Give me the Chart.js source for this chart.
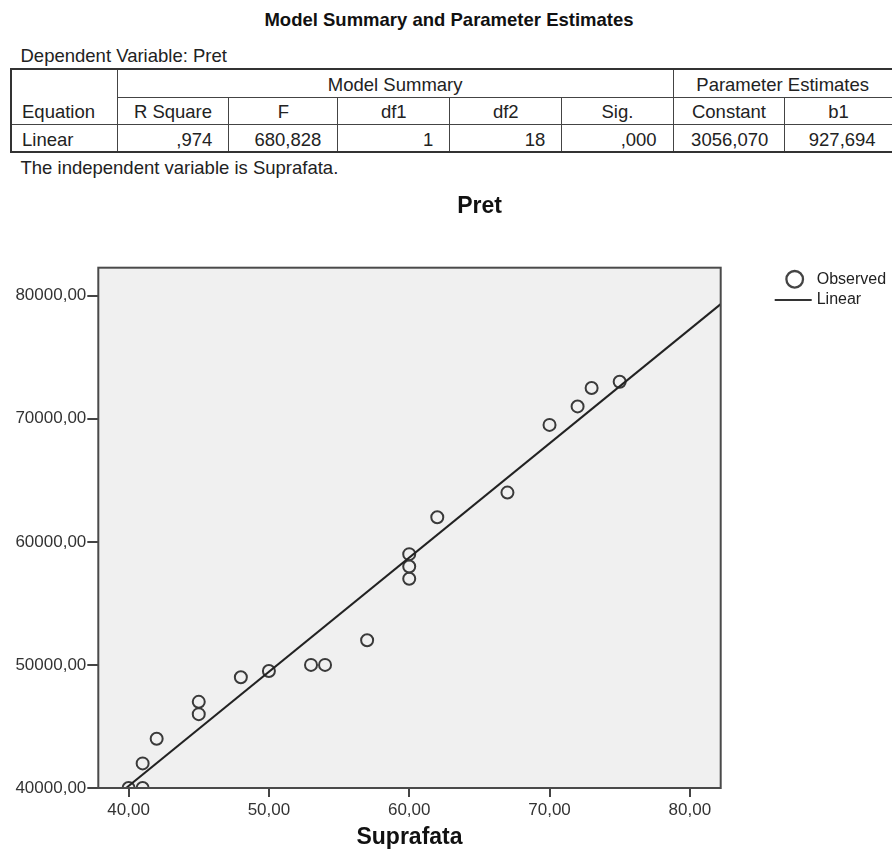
<!DOCTYPE html>
<html>
<head>
<meta charset="utf-8">
<script src="https://cdn.jsdelivr.net/npm/chart.js@4/dist/chart.umd.min.js"></script>
<style>
  html, body { margin:0; padding:0; background:#fff; }
  body { width:892px; height:849px; position:relative; overflow:hidden; font-family:"Liberation Sans", Arial, sans-serif; color:#222; }
  .txt { position:absolute; white-space:nowrap; line-height:22px; }
  #mainTitle { left:449px; top:9px; transform:translateX(-50%); font-weight:bold; font-size:18.5px; color:#111; }
  #depVar { left:20.5px; top:45px; font-size:18.5px; }
  #foot { left:20.5px; top:156.5px; font-size:18.5px; }
  #tbl { position:absolute; left:10px; top:68px; width:880px; height:81px; border:2px solid #333;
         display:grid; grid-template-columns:105.7px 111.6px 109px 112px 112px 111.4px 111.6px 106.4px;
         grid-template-rows:27.5px 27px 26.5px; font-size:18.5px; }
  #tbl > div { box-sizing:border-box; display:flex; align-items:flex-end; padding-bottom:1.5px; line-height:20px; white-space:nowrap; overflow:hidden; border-right:1.5px solid #444; border-bottom:1.5px solid #444; }
  #tbl > div.c { justify-content:center; }
  #tbl > div.l { justify-content:flex-start; padding-left:10px; }
  #tbl > div.r { justify-content:flex-end; padding-right:16px; }
  #tbl > div.lastc { border-right:none; }
  #tbl > div.lastr { border-bottom:none; }
  #chartBox { position:absolute; left:0; top:180px; width:892px; height:669px; }
</style>
</head>
<body>
<div id="mainTitle" class="txt">Model Summary and Parameter Estimates</div>
<div id="depVar" class="txt">Dependent Variable: Pret</div>
<div id="tbl"></div>
<div id="foot" class="txt">The independent variable is Suprafata.</div>
<div id="chartBox"><canvas id="c" width="892" height="669"></canvas></div>
<script>
// ---------- data ----------
const equationName = 'Linear';
const summaryHeader = 'Model Summary';
const paramHeader = 'Parameter Estimates';
const columnHeaders = ['R Square', 'F', 'df1', 'df2', 'Sig.', 'Constant', 'b1'];
const rowValues = [',974', '680,828', '1', '18', ',000', '3056,070', '927,694'];

const suprafata = [40, 41, 41, 42, 45, 45, 48, 50, 53, 54, 57, 60, 60, 60, 62, 67, 70, 72, 73, 75];
const pret = [40000, 40000, 42000, 44000, 47000, 46000, 49000, 49500, 50000, 50000, 52000, 59000, 58000, 57000, 62000, 64000, 69500, 71000, 72500, 73000];

// fitted line end points (Pret = 3056,070 + 927,694 * Suprafata)
const fitX = [37.84, 82.2];
const fitY = [38160, 79312];

const xTicks = [40, 50, 60, 70, 80];
const xTickLabels = ['40,00', '50,00', '60,00', '70,00', '80,00'];
const yTicks = [40000, 50000, 60000, 70000, 80000];
const yTickLabels = ['40000,00', '50000,00', '60000,00', '70000,00', '80000,00'];

const chartTitle = 'Pret';
const xTitle = 'Suprafata';
const legendLabels = ['Observed', 'Linear'];

// ---------- table ----------
(function buildTable(){
  const t = document.getElementById('tbl');
  function cell(text, cls, col, row, extra) {
    const d = document.createElement('div');
    d.textContent = text;
    d.className = cls;
    d.style.gridColumn = col;
    d.style.gridRow = row;
    if (extra) d.className += ' ' + extra;
    t.appendChild(d);
  }
  cell('Equation', 'l', '1', '1 / 3');
  cell(summaryHeader, 'c', '2 / 7', '1');
  cell(paramHeader, 'c', '8 / 9'.replace('8','7'), '1', 'lastc');
  columnHeaders.forEach((h, i) => cell(h, 'c', String(i + 2), '2', i === columnHeaders.length - 1 ? 'lastc' : ''));
  cell(equationName, 'l lastr', '1', '3');
  rowValues.forEach((v, i) => cell(v, 'r lastr', String(i + 2), '3', i === rowValues.length - 1 ? 'lastc' : ''));
})();

// ---------- chart ----------
const FONT = '"Liberation Sans", Arial, sans-serif';

const decor = {
  id: 'decor',
  beforeDraw(chart) {
    const {ctx, chartArea: a} = chart;
    ctx.save();
    ctx.fillStyle = '#f0f0f0';
    ctx.fillRect(a.left, a.top, a.right - a.left, a.bottom - a.top);
    ctx.restore();
  },
  afterDraw(chart) {
    const {ctx, chartArea: a} = chart;
    ctx.save();
    // frame
    ctx.strokeStyle = '#4a4a4a';
    ctx.lineWidth = 2;
    ctx.strokeRect(a.left, a.top, a.right - a.left, a.bottom - a.top);
    // title
    ctx.fillStyle = '#111';
    ctx.font = 'bold 23px ' + FONT;
    ctx.textAlign = 'center';
    ctx.textBaseline = 'middle';
    ctx.fillText(chartTitle, 479.5, 26.5);
    // legend
    const lx = a.right + 74, ly1 = a.top + 11.6, ly2 = a.top + 32.3;
    ctx.strokeStyle = '#444';
    ctx.lineWidth = 2.3;
    ctx.beginPath();
    ctx.arc(lx, ly1, 8.3, 0, Math.PI * 2);
    ctx.stroke();
    ctx.strokeStyle = '#333';
    ctx.lineWidth = 2;
    ctx.beginPath();
    ctx.moveTo(lx - 20, ly2);
    ctx.lineTo(lx + 17, ly2);
    ctx.stroke();
    ctx.fillStyle = '#222';
    ctx.font = '16px ' + FONT;
    ctx.textAlign = 'left';
    ctx.fillText(legendLabels[0], lx + 22, ly1 + 0.5);
    ctx.fillText(legendLabels[1], lx + 22, ly2);
    ctx.restore();
  }
};

new Chart(document.getElementById('c').getContext('2d'), {
  type: 'scatter',
  data: {
    datasets: [
      {
        label: legendLabels[1],
        data: fitX.map((x, i) => ({x: x, y: fitY[i]})),
        showLine: true,
        borderColor: '#222',
        borderWidth: 2,
        pointRadius: 0,
        clip: 0
      },
      {
        label: legendLabels[0],
        data: suprafata.map((x, i) => ({x: x, y: pret[i]})),
        pointRadius: 6,
        pointBorderWidth: 2,
        pointBorderColor: '#3a3a3a',
        pointBackgroundColor: 'rgba(0,0,0,0)',
        clip: 0
      }
    ]
  },
  options: {
    responsive: false,
    animation: false,
    devicePixelRatio: 1,
    layout: { padding: { left: 0, right: 171.3, top: 87.7, bottom: 0 } },
    plugins: {
      legend: { display: false },
      tooltip: { enabled: false },
      title: { display: false }
    },
    scales: {
      x: {
        type: 'linear',
        position: 'bottom',
        min: 37.84,
        max: 82.2,
        afterFit: s => { s.height = 61; },
        afterBuildTicks: s => { s.ticks = xTicks.map(v => ({value: v})); },
        border: { display: false },
        grid: { drawOnChartArea: false, drawTicks: true, tickLength: 9, color: '#444', lineWidth: 2 },
        ticks: {
          font: { family: FONT, size: 17 },
          color: '#333',
          padding: 3,
          maxRotation: 0,
          autoSkip: false,
          callback: v => xTickLabels[xTicks.indexOf(v)]
        },
        title: {
          display: true, text: xTitle, color: '#111',
          font: { family: FONT, size: 23, weight: 'bold', lineHeight: 1 },
          padding: { top: 0, bottom: 0 }
        }
      },
      y: {
        type: 'linear',
        position: 'left',
        min: 40000,
        max: 82270,
        afterFit: s => { s.width = 98.3; },
        afterBuildTicks: s => { s.ticks = yTicks.map(v => ({value: v})); },
        border: { display: false },
        grid: { drawOnChartArea: false, drawTicks: true, tickLength: 11, color: '#444', lineWidth: 2 },
        ticks: {
          font: { family: FONT, size: 17 },
          color: '#333',
          padding: 1,
          autoSkip: false,
          callback: v => yTickLabels[yTicks.indexOf(v)]
        }
      }
    }
  },
  plugins: [decor]
});
</script>
</body>
</html>
